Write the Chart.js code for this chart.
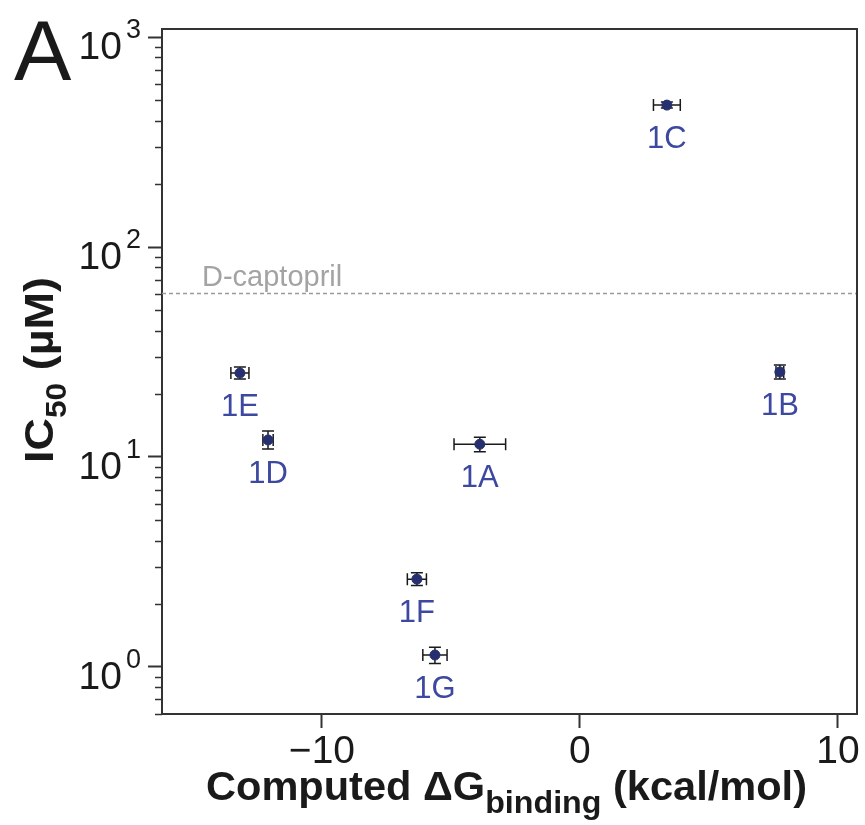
<!DOCTYPE html>
<html lang="en">
<head>
<meta charset="UTF-8" />
<title>IC50 vs computed binding energy</title>
<script src="https://cdn.jsdelivr.net/npm/chart.js@4"></script>
<style>
  body { margin: 0; background: #fff; }
  #chart { display: block; }
</style>
</head>
<body>
<canvas id="chart" width="865" height="825"></canvas>
<script>
// compounds, computed dG (kcal/mol) with error, IC50 (uM) with low/high bounds
const compounds = ['1A', '1B', '1C', '1D', '1E', '1F', '1G'];
const deltaG    = [-3.88, 7.75, 3.37, -12.09, -13.18, -6.32, -5.62];
const deltaGErr = [1.0, 0.15, 0.52, 0.2, 0.35, 0.37, 0.47];
const ic50      = [11.5, 25.4, 474, 12.05, 25.1, 2.62, 1.14];
const ic50Lo    = [10.6, 23.5, 459, 10.9, 23.5, 2.44, 1.04];
const ic50Hi    = [12.4, 27.4, 490, 13.3, 26.8, 2.81, 1.24];

const refName = 'D-captopril';
const refIC50 = 60;

const xTicks = [-10, 0, 10];
const yDecades = [1, 10, 100, 1000];
const xMin = -16.2, xMax = 10.74;
const yMin = 0.597, yMax = 1092;

const FONT = '"Liberation Sans", Arial, sans-serif';
const supDigits = { '0': '0', '1': '1', '2': '2', '3': '3' };

// draws text pieces (with sub/superscripts) stretched to a given width
function drawRich(ctx, parts, targetWidth) {
  let total = 0;
  parts.forEach(p => {
    ctx.font = 'bold ' + p.size + 'px ' + FONT;
    p.w = ctx.measureText(p.text).width;
    total += p.w;
  });
  const sx = targetWidth ? targetWidth / total : 1;
  ctx.save();
  ctx.scale(sx, 1);
  let cx = 0;
  parts.forEach(p => {
    ctx.font = 'bold ' + p.size + 'px ' + FONT;
    ctx.fillText(p.text, cx, p.dy || 0);
    cx += p.w;
  });
  ctx.restore();
}

const decor = {
  id: 'decor',
  beforeDatasetsDraw(chart) {
    const { ctx, scales: { x, y } } = chart;
    ctx.save();
    ctx.strokeStyle = '#1a1a1a';
    ctx.lineWidth = 1.5;
    const cap = 6;
    compounds.forEach((c, i) => {
      const px = x.getPixelForValue(deltaG[i]);
      const py = y.getPixelForValue(ic50[i]);
      const xl = x.getPixelForValue(deltaG[i] - deltaGErr[i]);
      const xr = x.getPixelForValue(deltaG[i] + deltaGErr[i]);
      const yt = y.getPixelForValue(ic50Hi[i]);
      const yb = y.getPixelForValue(ic50Lo[i]);
      ctx.beginPath();
      ctx.moveTo(xl, py); ctx.lineTo(xr, py);
      ctx.moveTo(xl, py - cap); ctx.lineTo(xl, py + cap);
      ctx.moveTo(xr, py - cap); ctx.lineTo(xr, py + cap);
      ctx.moveTo(px, yt); ctx.lineTo(px, yb);
      ctx.moveTo(px - cap, yt); ctx.lineTo(px + cap, yt);
      ctx.moveTo(px - cap, yb); ctx.lineTo(px + cap, yb);
      ctx.stroke();
    });
    ctx.restore();
  },
  afterDraw(chart) {
    const { ctx, chartArea: a, scales: { x, y } } = chart;
    ctx.save();

    // top and right frame
    ctx.strokeStyle = '#333';
    ctx.lineWidth = 2;
    ctx.beginPath();
    ctx.moveTo(a.left, a.top);
    ctx.lineTo(a.right, a.top);
    ctx.lineTo(a.right, a.bottom);
    ctx.stroke();

    // minor log ticks
    ctx.lineWidth = 1.5;
    ctx.beginPath();
    y.ticks.forEach(t => {
      if (t.major) return;
      const py = Math.round(y.getPixelForValue(t.value)) + 0.5;
      ctx.moveTo(a.left - 7, py);
      ctx.lineTo(a.left, py);
    });
    ctx.stroke();

    // y tick labels 10^n
    ctx.fillStyle = '#1a1a1a';
    yDecades.forEach(d => {
      const py = y.getPixelForValue(d);
      const e = String(Math.round(Math.log10(d)));
      ctx.font = '39px ' + FONT;
      ctx.textAlign = 'right';
      ctx.fillText('10', a.left - 40, py + 22);
      ctx.font = '27px ' + FONT;
      ctx.textAlign = 'left';
      ctx.fillText(supDigits[e], a.left - 36, py + 1);
    });

    // x tick labels
    ctx.font = '39px ' + FONT;
    ctx.textAlign = 'center';
    xTicks.forEach(v => {
      const px = x.getPixelForValue(v);
      const s = v < 0 ? '\u2212' + Math.abs(v) : String(v);
      ctx.fillText(s, px, a.bottom + 49);
    });

    // compound labels
    ctx.fillStyle = '#3d48a0';
    ctx.font = '31px ' + FONT;
    compounds.forEach((c, i) => {
      const px = x.getPixelForValue(deltaG[i]);
      const py = y.getPixelForValue(ic50[i]);
      ctx.fillText(c, px, py + 43);
    });

    // reference label
    ctx.fillStyle = '#a3a3a3';
    ctx.font = '29px ' + FONT;
    ctx.textAlign = 'left';
    ctx.fillText(refName, a.left + 40, y.getPixelForValue(refIC50) - 8);

    // axis titles
    ctx.fillStyle = '#1a1a1a';
    ctx.save();
    ctx.translate(206, 800);
    drawRich(ctx, [
      { text: 'Computed \u0394G', size: 40 },
      { text: 'binding', size: 31, dy: 13 },
      { text: ' (kcal/mol)', size: 40 }
    ], 601);
    ctx.restore();

    ctx.save();
    ctx.translate(53, 463);
    ctx.rotate(-Math.PI / 2);
    drawRich(ctx, [
      { text: 'IC', size: 41 },
      { text: '50', size: 29, dy: 13 },
      { text: ' (\u00b5M)', size: 41 }
    ], 186);
    ctx.restore();

    // panel letter
    ctx.font = '86px ' + FONT;
    ctx.fillText('A', 14, 80);

    ctx.restore();
  }
};

new Chart(document.getElementById('chart'), {
  type: 'scatter',
  data: {
    datasets: [
      {
        data: deltaG.map((g, i) => ({ x: g, y: ic50[i] })),
        pointRadius: 5,
        pointBackgroundColor: '#26306f',
        pointBorderColor: '#26306f',
        pointBorderWidth: 1
      },
      {
        data: [{ x: xMin, y: refIC50 }, { x: xMax, y: refIC50 }],
        showLine: true,
        borderColor: '#9a9a9a',
        borderWidth: 1.5,
        borderDash: [4, 3],
        pointRadius: 0
      }
    ]
  },
  options: {
    responsive: false,
    animation: false,
    layout: { padding: { top: 29, right: 8, left: 0, bottom: 0 } },
    plugins: { legend: { display: false }, tooltip: { enabled: false } },
    scales: {
      x: {
        type: 'linear',
        min: xMin,
        max: xMax,
        afterBuildTicks: s => { s.ticks = xTicks.map(v => ({ value: v })); },
        afterFit: s => { s.height = 111; },
        ticks: { display: false },
        grid: { drawOnChartArea: false, tickLength: 14, tickColor: '#333', tickWidth: 2 },
        border: { color: '#333', width: 2 }
      },
      y: {
        type: 'logarithmic',
        min: yMin,
        max: yMax,
        afterBuildTicks: s => {
          const t = [];
          yDecades.forEach(d => {
            for (let m = 1; m <= 9; m++) {
              const v = m * d;
              if (v >= yMin && v <= yMax) t.push({ value: v, major: m === 1 });
            }
          });
          t.push({ value: 0.6, major: false }, { value: 0.7, major: false },
                 { value: 0.8, major: false }, { value: 0.9, major: false });
          s.ticks = t.sort((p, q) => p.value - q.value);
        },
        afterFit: s => { s.width = 162; },
        ticks: { display: false },
        grid: {
          drawOnChartArea: false,
          tickLength: 14,
          tickWidth: 2,
          tickColor: c => (c.tick && c.tick.major ? '#333' : 'rgba(0,0,0,0)')
        },
        border: { color: '#333', width: 2 }
      }
    }
  },
  plugins: [decor]
});
</script>
</body>
</html>
